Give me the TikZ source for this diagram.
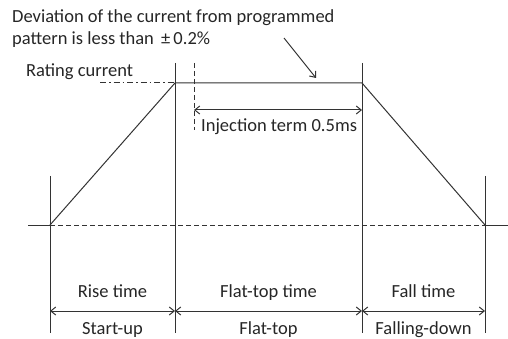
\documentclass[tikz,border=0pt]{standalone}
\usepackage{fontspec}
\setmainfont{Carlito}
\usetikzlibrary{arrows.meta}
\begin{document}
\begin{tikzpicture}[x=1pt,y=-1pt,
  ln/.style={line width=1pt,draw=black!80},
  dim/.style={line width=1pt,draw=black!80,{Straight Barb[length=5pt,width=8pt]}-{Straight Barb[length=5pt,width=8pt]}},
  lbl/.style={font=\fontsize{18.5}{22}\selectfont,text=black!85,inner sep=0pt}]
\useasboundingbox (0,0) rectangle (508,339);
\coordinate (o1) at (50,225);
\coordinate (t1) at (175,83);
\coordinate (t2) at (362,83);
\coordinate (o2) at (485,225);
% verticals
\draw[ln] (50,176) -- (50,333);
\draw[ln] (175,63) -- (175,333);
\draw[ln] (362,63) -- (362,333);
\draw[ln] (485,176) -- (485,333);
% baseline
\draw[ln] (28,225) -- (o1);
\draw[ln] (o2) -- (508,225);
\draw[ln,dashed,dash pattern=on 5pt off 3pt] (o1) -- (o2);
% trapezoid
\draw[ln] (o1) -- (t1) -- (t2) -- (o2);
% rating current
\draw[ln,dash pattern=on 6pt off 3pt on 1.5pt off 3pt] (100,83) -- (t1);
\node[lbl,anchor=base west] (rc) at (26,77) {Rating current};
% injection
\draw[ln,dashed,dash pattern=on 5pt off 3pt] (194,63) -- (194,130);
\coordinate (i1) at (194,110);
\coordinate (i2) at (362,110);
\draw[dim] (i1) -- (i2);
\node[lbl,anchor=base west] (inj) at (201,132) {Injection term 0.5ms};
% deviation
\node[lbl,anchor=base west] (dev1) at (12,23) {Deviation of the current from programmed};
\node[lbl,anchor=base west] (dev2) at (12,45) {pattern is less than \,±\,0.2\%};
\coordinate (a1) at (284,38);
\coordinate (a2) at (316,78);
\draw[ln,-{Straight Barb[length=5pt,width=8pt]}] (a1) -- (a2);
% bottom
\coordinate (b1) at (50,311);
\coordinate (b2) at (175,311);
\coordinate (b3) at (362,311);
\coordinate (b4) at (485,311);
\draw[dim] (b1) -- (b2);
\draw[dim] (b2) -- (b3);
\draw[dim] (b3) -- (b4);
\node[lbl,anchor=base] (rt) at (112.5,297) {Rise time};
\node[lbl,anchor=base] (ft) at (268.5,297) {Flat-top time};
\node[lbl,anchor=base] (fa) at (423.5,297) {Fall time};
\node[lbl,anchor=base] (su) at (112.5,334) {Start-up};
\node[lbl,anchor=base] (fl) at (268.5,334) {Flat-top};
\node[lbl,anchor=base] (fd) at (423.5,334) {Falling-down};
\end{tikzpicture}
\end{document}
